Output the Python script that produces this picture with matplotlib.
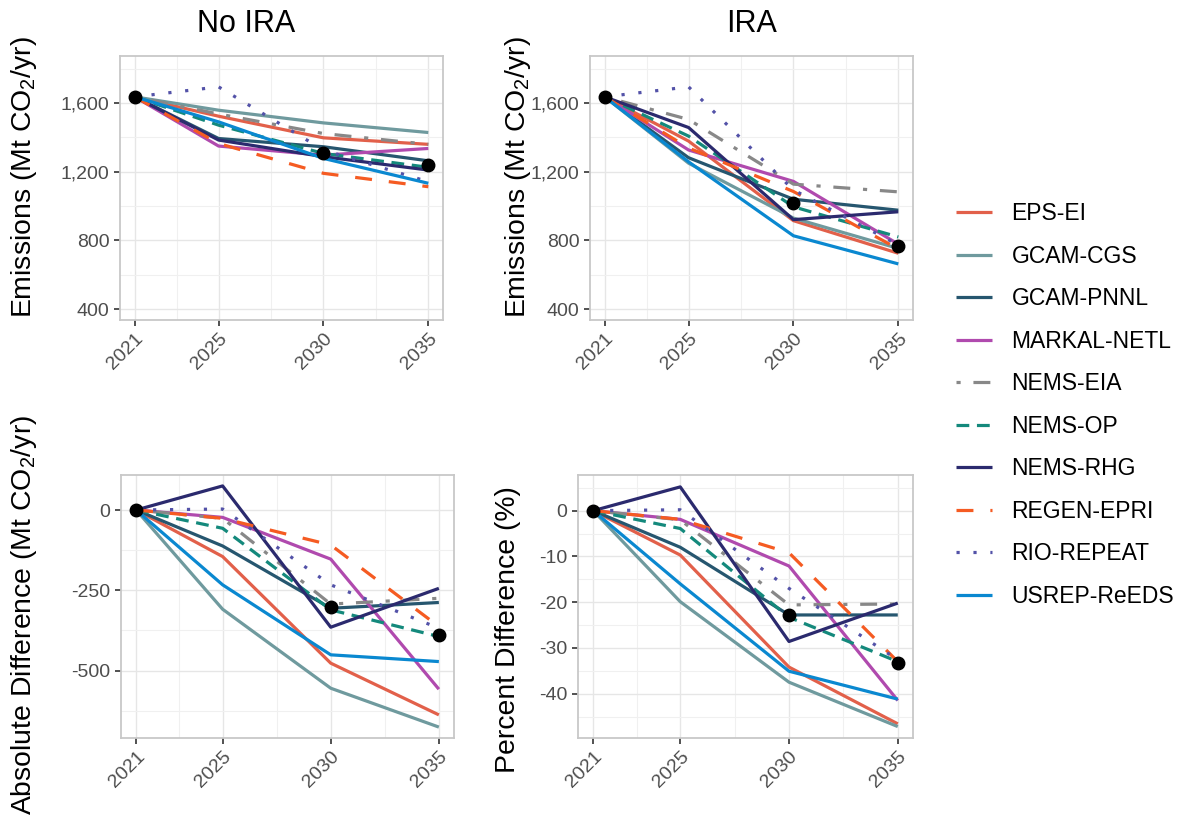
import matplotlib
matplotlib.use("Agg")
import matplotlib.pyplot as plt
from matplotlib.ticker import FuncFormatter, FixedLocator

plt.rcParams['font.family'] = ['Liberation Sans', 'DejaVu Sans']
plt.rcParams['mathtext.fontset'] = 'custom'
plt.rcParams['mathtext.rm'] = 'Liberation Sans'
plt.rcParams['mathtext.it'] = 'Liberation Sans:italic'

years = [2021, 2025, 2030, 2035]
models = ["EPS-EI", "GCAM-CGS", "GCAM-PNNL", "MARKAL-NETL", "NEMS-EIA",
          "NEMS-OP", "NEMS-RHG", "REGEN-EPRI", "RIO-REPEAT", "USREP-ReEDS"]

# emissions, Mt CO2/yr
no_ira = [
    [1637, 1524, 1398, 1360],
    [1637, 1559, 1485, 1429],
    [1637, 1394, 1346, 1264],
    [1637, 1350, 1297, 1336],
    [1637, 1537, 1423, 1360],
    [1637, 1472, 1307, 1226],
    [1637, 1385, 1288, 1210],
    [1637, 1365, 1191, 1113],
    [1637, 1695, 1327, 1142],
    [1637, 1491, 1278, 1133],
]
ira = [
    [1637, 1379, 915, 725],
    [1637, 1250, 930, 753],
    [1637, 1282, 1040, 976],
    [1637, 1327, 1144, 778],
    [1637, 1505, 1128, 1083],
    [1637, 1408, 996, 820],
    [1637, 1458, 921, 967],
    [1637, 1339, 1085, 750],
    [1637, 1695, 1094, 774],
    [1637, 1258, 827, 663],
]
abs_diff = [
    [0, -145, -477, -638],
    [0, -309, -555, -676],
    [0, -112, -306, -288],
    [0, -23, -153, -558],
    [0, -26, -293, -275],
    [0, -57, -311, -394],
    [0, 75, -365, -244],
    [0, -26, -109, -363],
    [0, 3, -233, -368],
    [0, -233, -451, -472],
]
pct_diff = [
    [0, -9.7, -34.2, -46.6],
    [0, -19.9, -37.5, -47.2],
    [0, -8.0, -22.8, -22.8],
    [0, -1.9, -12.1, -41.5],
    [0, -2.0, -20.6, -20.4],
    [0, -3.9, -23.3, -33.0],
    [0, 5.2, -28.6, -20.2],
    [0, -1.9, -9.2, -33.0],
    [0, 0.2, -17.0, -32.6],
    [0, -16.0, -35.1, -41.2],
]

# black markers
dot_years = [2021, 2030, 2035]
no_ira_dots = [1637, 1307, 1239]
ira_dots = [1637, 1020, 768]
abs_dots = [0, -303, -389]
pct_dots = [0, -22.9, -33.3]

colors = ["#E2604A", "#6F9A9E", "#26566F", "#B04AAE", "#888888",
          "#14897C", "#2B2A6E", "#F55B22", "#5352A8", "#0A88D0"]
dashes = [None, None, None, None, (1.3, 4, 5.3, 4),
          (4.0, 2.4), None, (5.3, 5.3), (1.0, 4.3), None]

W, H = 1188, 821
fig = plt.figure(figsize=(W / 100, H / 100), dpi=100)


def px_axes(l, r, t, b):
    return fig.add_axes([l / W, 1 - b / H, (r - l) / W, (b - t) / H])


def style(ax, ylim, major, minor, fmt=None):
    ax.set_xlim(2020.3, 2035.7)
    ax.set_ylim(*ylim)
    ax.xaxis.set_major_locator(FixedLocator(years))
    ax.xaxis.set_minor_locator(FixedLocator([2023, 2027.5, 2032.5]))
    ax.yaxis.set_major_locator(FixedLocator(major))
    ax.yaxis.set_minor_locator(FixedLocator(minor))
    if fmt:
        ax.yaxis.set_major_formatter(FuncFormatter(fmt))
    ax.grid(which='major', color='#e6e6e6', lw=1.0)
    ax.grid(which='minor', color='#f0f0f0', lw=0.8)
    ax.set_axisbelow(True)
    for s in ax.spines.values():
        s.set_color('#c8c8c8')
        s.set_linewidth(1.3)
    ax.tick_params(which='major', length=4, width=1.2, color='#333333',
                   labelsize=14, labelcolor='#4d4d4d')
    ax.tick_params(which='minor', length=0)
    for lab in ax.get_xticklabels():
        lab.set_rotation(45)
        lab.set_ha('right')
        lab.set_va('top')
        lab.set_rotation_mode('anchor')


def draw(ax, data, dots):
    for name, vals, c, d in zip(models, data, colors, dashes):
        line, = ax.plot(years, vals, color=c, lw=2.3, label=name,
                        solid_capstyle='butt', dash_capstyle='butt')
        if d is not None:
            line.set_dashes(d)
    ax.plot(dot_years, dots, 'o', color='black', ms=9, zorder=5)


comma = lambda v, p: f"{int(v):,}"

ax1 = px_axes(120, 443, 56, 320)
draw(ax1, no_ira, no_ira_dots)
style(ax1, (336, 1875), [400, 800, 1200, 1600], [600, 1000, 1400, 1800], comma)

ax2 = px_axes(590, 913, 56, 320)
draw(ax2, ira, ira_dots)
style(ax2, (336, 1875), [400, 800, 1200, 1600], [600, 1000, 1400, 1800], comma)

ax3 = px_axes(121, 454, 475, 738)
draw(ax3, abs_diff, abs_dots)
style(ax3, (-710, 109), [0, -250, -500], [-125, -375, -625],
      lambda v, p: f"{int(v)}")

ax4 = px_axes(578, 913, 475, 738)
draw(ax4, pct_diff, pct_dots)
style(ax4, (-49.7, 7.8), [0, -10, -20, -30, -40], [5, -5, -15, -25, -35, -45],
      lambda v, p: f"{int(v)}")

fig.text(246 / W, 1 - 24 / H, "No IRA", fontsize=22, ha='center', va='center')
fig.text(752 / W, 1 - 24 / H, "IRA", fontsize=22, ha='center', va='center')

ylab = "Emissions (Mt CO$_2$/yr)"
fig.text(24 / W, 1 - 177 / H, ylab, fontsize=20.4, rotation=90, ha='center', va='center')
fig.text(518 / W, 1 - 177 / H, ylab, fontsize=20.4, rotation=90, ha='center', va='center')
fig.text(24 / W, 1 - 615 / H, "Absolute Difference (Mt CO$_2$/yr)", fontsize=20.4,
         rotation=90, ha='center', va='center')
fig.text(508 / W, 1 - 630 / H, "Percent Difference (%)", fontsize=20.4,
         rotation=90, ha='center', va='center')

handles, labels = ax1.get_legend_handles_labels()
fig.legend(handles, labels, loc='center left', bbox_to_anchor=(945 / W, 1 - 405 / H),
           frameon=False, fontsize=16.5, handlelength=1.55, handletextpad=0.85,
           labelspacing=0.85, borderpad=0)

fig.savefig("out.png", dpi=100)
